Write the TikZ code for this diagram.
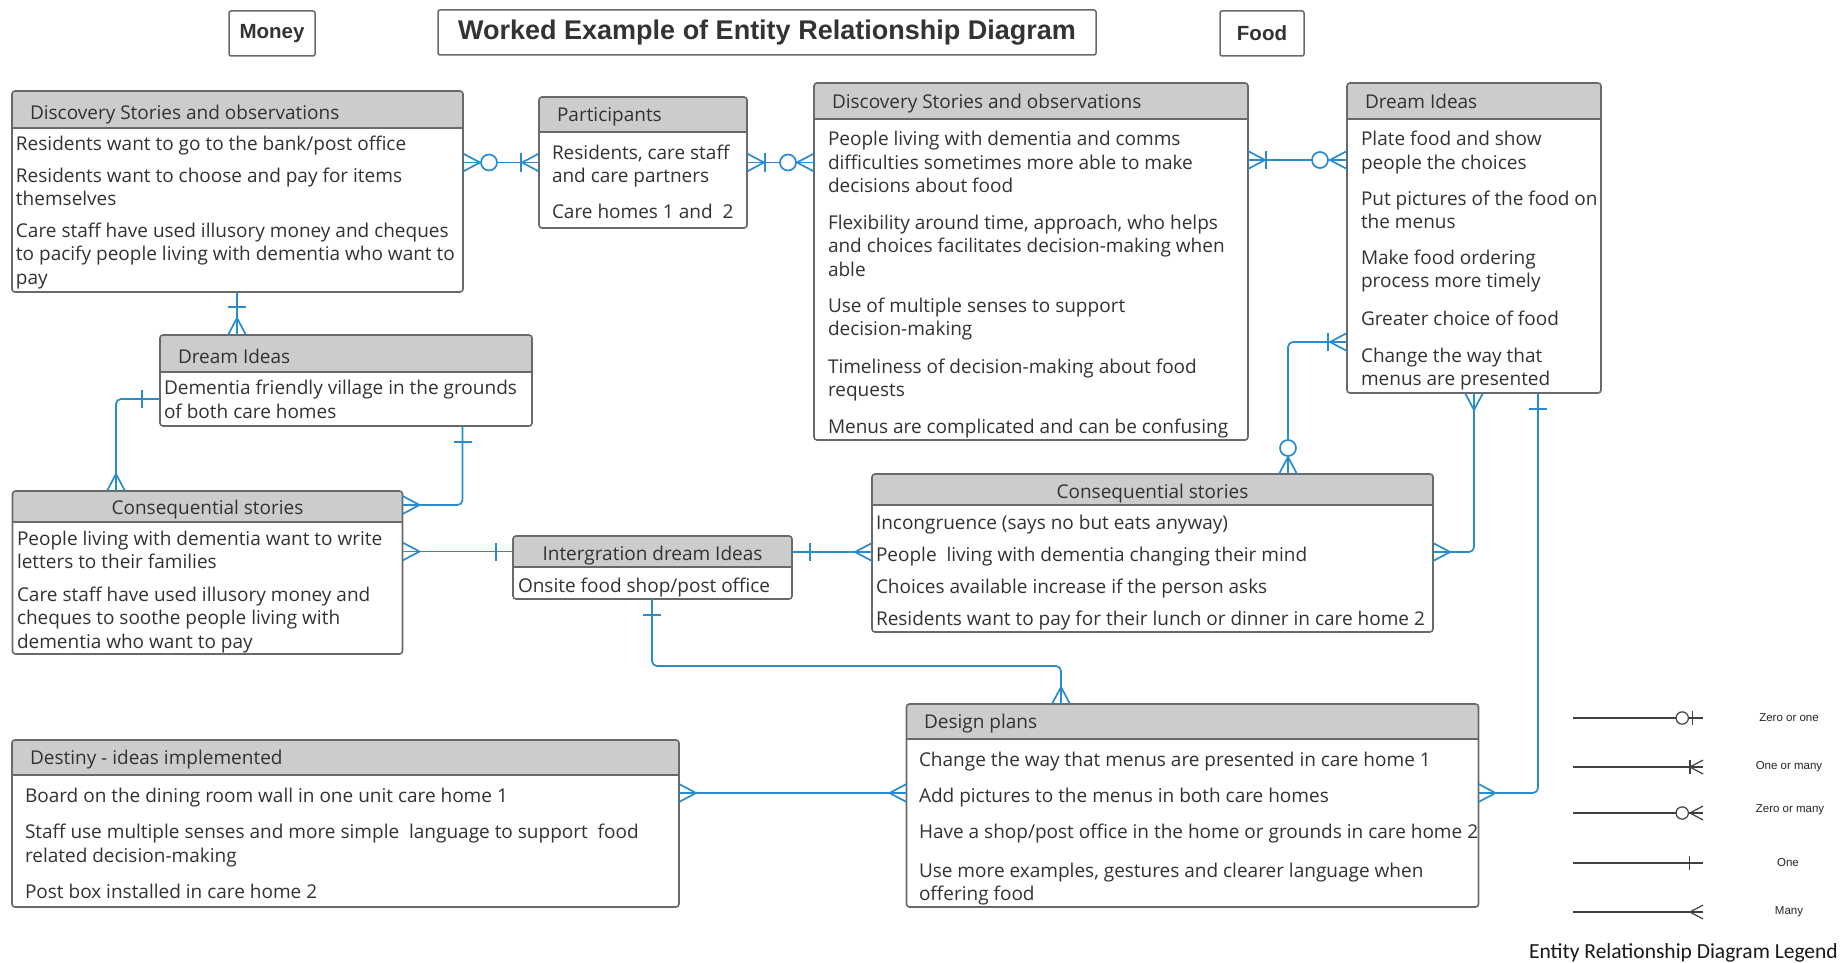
\documentclass[tikz,border=0pt]{standalone}
\usepackage{fontspec}
\setmainfont{Open Sans}
\newfontfamily\headfont{Liberation Sans}
\newfontfamily\legfont{Carlito}
\usetikzlibrary{calc}

\definecolor{erblue}{RGB}{40,140,205}
\definecolor{erframe}{RGB}{105,105,105}
\definecolor{erhead}{RGB}{204,204,204}
\definecolor{ertext}{RGB}{50,50,50}

\newcommand\erbody{\fontsize{19}{23.5}\selectfont}

\tikzset{
  entity/.style={draw=erframe, line width=1.6pt, rounded corners=3pt, inner sep=0pt, outer sep=0pt, anchor=north west},
  frame/.style={draw=erframe, line width=1.6pt},
  item/.style={anchor=north west, inner sep=0pt, outer sep=0pt, align=left, font=\erbody, text=ertext},
  conn/.style={draw=erblue, line width=1.7pt},
  wire/.style={conn, rounded corners=5pt},
  legline/.style={draw=black!75, line width=1.2pt},
  legmark/.style={legline, scale=0.77},
  topbox/.style={draw=erframe, line width=1.5pt, rounded corners=2pt, inner sep=0pt, text=black!80, font=\headfont\bfseries\fontsize{20.5}{24}\selectfont},
  leglabel/.style={font=\headfont\fontsize{11.5}{13}\selectfont, text=black!85, inner sep=0pt}
}

% entity box: name, x1, y1, x2, y2, bottom of the title band
\newcommand\erentity[6]{%
  \begin{scope}
    \clip[rounded corners=3pt] (#2,#3) rectangle (#4,#5);
    \fill[white] (#2,#3) rectangle (#4,#5);
    \fill[erhead] (#2,#3) rectangle (#4,#6);
  \end{scope}
  \draw[frame] (#2,#6) -- (#4,#6);
  \node[entity, minimum width={#4pt-#2pt}, minimum height={#5pt-#3pt}] (#1) at (#2,#3) {};
}
% text line(s): name, left x, centre of first line, text
\newcommand\erline[4]{\node[item] (#1) at (#2,{#3-8}) {\strut #4};}

% crow's foot notation, drawn outward from a box edge point
\newcommand\ermany[3]{\draw[shift={(#1)}, rotate=#2, #3] (0,9) -- (17,0) -- (0,-9);}
\newcommand\erbar[4]{\draw[shift={(#1)}, rotate=#2, #3] (#4,-9) -- (#4,9);}
\newcommand\ercirc[4]{\draw[shift={(#1)}, rotate=#2, #3, fill=white] (#4,0) circle[radius=8];}

\begin{document}
\begin{tikzpicture}[x=1pt,y=-1pt]
\useasboundingbox (0,0) rectangle (1842,963);
\fill[white] (0,0) rectangle (1842,963);

% heading boxes
\node[topbox, minimum width=86pt, minimum height=45pt] (money) at (272,33.5) {Money};
\node[topbox, minimum width=658pt, minimum height=45pt, font=\headfont\bfseries\fontsize{27}{30}\selectfont] (title) at (767,32.5) {Worked Example of Entity Relationship Diagram};
\node[topbox, minimum width=84pt, minimum height=45pt] (food) at (1262,33.5) {Food};

% entities
\erentity{A}{12}{91}{463}{292}{128}
\erentity{B}{539}{97}{747}{228}{132}
\erentity{C}{814}{83}{1248}{440}{119}
\erentity{D}{1347}{83}{1601}{393}{119}
\erentity{E}{160}{335}{532}{426}{372}
\erentity{F}{12.5}{491}{402.5}{654}{522}
\erentity{G}{513}{536}{792}{599}{567}
\erentity{H}{872}{474}{1433}{632}{505}
\erentity{I}{12}{740}{679}{907}{775}
\erentity{J}{906.5}{704}{1478.5}{907}{739}

% Money: discovery stories
\erline{Ah}{30}{111}{Discovery Stories and observations}
\erline{A1}{16}{142}{Residents want to go to the bank/post office}
\erline{A2}{16}{174}{Residents want to choose and pay for items\\themselves}
\erline{A3}{16}{229}{Care staff have used illusory money and cheques\\to pacify people living with dementia who want to\\pay}

% participants
\erline{Bh}{557}{113}{Participants}
\erline{B1}{552}{151}{Residents, care staff\\and care partners}
\erline{B2}{552}{210}{Care homes 1 and\ \ 2}

% Food: discovery stories
\erline{Ch}{832}{100}{Discovery Stories and observations}
\erline{C1}{828}{137.5}{People living with dementia and comms\\difficulties sometimes more able to make\\decisions about food}
\erline{C2}{828}{221}{Flexibility around time, approach, who helps\\and choices facilitates decision-making when\\able}
\erline{C3}{828}{304}{Use of multiple senses to support\\decision-making}
\erline{C4}{828}{365}{Timeliness of decision-making about food\\requests}
\erline{C5}{828}{425}{Menus are complicated and can be confusing}

% Food: dream ideas
\erline{Dh}{1365}{100}{Dream Ideas}
\erline{D1}{1361}{137.5}{Plate food and show\\people the choices}
\erline{D2}{1361}{197}{Put pictures of the food on\\the menus}
\erline{D3}{1361}{256}{Make food ordering\\process more timely}
\erline{D4}{1361}{317}{Greater choice of food}
\erline{D5}{1361}{354}{Change the way that\\menus are presented}

% Money: dream ideas
\erline{Eh}{178}{355}{Dream Ideas}
\erline{E1}{164}{386.5}{Dementia friendly village in the grounds\\of both care homes}

% Money: consequential stories
\node[item, anchor=north, align=center] (Fh) at (207.5,{506-8}) {\strut Consequential stories};
\erline{F1}{17}{537}{People living with dementia want to write\\letters to their families}
\erline{F2}{17}{593}{Care staff have used illusory money and\\cheques to soothe people living with\\dementia who want to pay}

% integration
\node[item, anchor=north, align=center] (Gh) at (652.5,{552-8}) {\strut Intergration dream Ideas};
\erline{G1}{518}{584}{Onsite food shop/post office}

% Food: consequential stories
\node[item, anchor=north, align=center] (Hh) at (1152.5,{490-8}) {\strut Consequential stories};
\erline{H1}{876}{521.5}{Incongruence (says no but eats anyway)}
\erline{H2}{876}{553}{People\ \ living with dementia changing their mind}
\erline{H3}{876}{585}{Choices available increase if the person asks}
\erline{H4}{876}{617}{Residents want to pay for their lunch or dinner in care home 2}

% destiny
\erline{Ih}{30}{756.5}{Destiny - ideas implemented}
\erline{I1}{25}{794}{Board on the dining room wall in one unit care home 1}
\erline{I2}{25}{830.5}{Staff use multiple senses and more simple\ \ language to support\ \ food\\related decision-making}
\erline{I3}{25}{890}{Post box installed in care home 2}

% design plans
\erline{Jh}{924}{720}{Design plans}
\erline{J1}{919}{757.7}{Change the way that menus are presented in care home 1}
\erline{J2}{919}{794}{Add pictures to the menus in both care homes}
\erline{J3}{919}{830.5}{Have a shop/post office in the home or grounds in care home 2}
\erline{J4}{919}{869}{Use more examples, gestures and clearer language when\\offering food}

% connector end points
\coordinate (c1a) at (A.east |- B.west);
\coordinate (c1b) at (B.west);
\coordinate (c2a) at (B.east);
\coordinate (c2b) at (B.east -| C.west);
\coordinate (c3a) at ($(C.north east)+(0,77)$);
\coordinate (c3b) at (c3a -| D.west);
\coordinate (c4a) at ($(A.south west)+(225,0)$);
\coordinate (c4b) at (c4a |- E.north);
\coordinate (c5a) at ($(E.north west)+(0,64)$);
\coordinate (c5b) at ($(F.north west)+(103.5,0)$);
\coordinate (c6a) at ($(E.south east)+(-69.5,0)$);
\coordinate (c6b) at ($(F.north east)+(0,14)$);
\coordinate (c7b) at ($(G.north west)+(0,15.5)$);
\coordinate (c7a) at (F.east |- c7b);
\coordinate (c8a) at ($(G.north east)+(0,16)$);
\coordinate (c8b) at (c8a -| H.west);
\coordinate (c9a) at ($(G.south west)+(139,0)$);
\coordinate (c9m) at ($(c9a)+(0,67)$);
\coordinate (c9b) at ($(J.north west)+(154.5,0)$);
\coordinate (c10a) at ($(H.north west)+(416,0)$);
\coordinate (c10b) at ($(D.north west)+(0,259)$);
\coordinate (c11a) at ($(D.south west)+(127,0)$);
\coordinate (c11b) at ($(H.north east)+(0,78)$);
\coordinate (c12a) at ($(D.south west)+(191,0)$);
\coordinate (c12b) at ($(J.north east)+(0,89)$);
\coordinate (c13a) at ($(I.north east)+(0,53)$);
\coordinate (c13b) at (c13a -| J.west);

% relationship lines
\draw[conn] (c1a) -- (c1b);
\draw[conn] (c2a) -- (c2b);
\draw[conn] (c3a) -- (c3b);
\draw[conn] (c4a) -- (c4b);
\draw[wire] (c5a) -| (c5b);
\draw[wire] (c6a) |- (c6b);
\draw[conn] (c7a) -- (c7b);
\draw[conn] (c8a) -- (c8b);
\draw[wire] (c9a) -- (c9m) -| (c9b);
\draw[wire] (c10a) |- (c10b);
\draw[wire] (c11a) |- (c11b);
\draw[wire] (c12a) |- (c12b);
\draw[conn] (c13a) -- (c13b);

% cardinality marks
\ermany{c1a}{0}{conn}\ercirc{c1a}{0}{conn}{26}
\ermany{c1b}{180}{conn}\erbar{c1b}{180}{conn}{18}
\ermany{c2a}{0}{conn}\erbar{c2a}{0}{conn}{18}
\ermany{c2b}{180}{conn}\ercirc{c2b}{180}{conn}{26}
\ermany{c3a}{0}{conn}\erbar{c3a}{0}{conn}{18}
\ermany{c3b}{180}{conn}\ercirc{c3b}{180}{conn}{27}
\erbar{c4a}{-90}{conn}{15}
\ermany{c4b}{90}{conn}
\erbar{c5a}{180}{conn}{18}
\ermany{c5b}{90}{conn}
\erbar{c6a}{-90}{conn}{16}
\ermany{c6b}{0}{conn}
\ermany{c7a}{0}{conn}
\erbar{c7b}{180}{conn}{17}
\erbar{c8a}{0}{conn}{18}
\ermany{c8b}{180}{conn}
\erbar{c9a}{-90}{conn}{16}
\ermany{c9b}{90}{conn}
\ermany{c10a}{90}{conn}\ercirc{c10a}{90}{conn}{26}
\ermany{c10b}{180}{conn}\erbar{c10b}{180}{conn}{19}
\ermany{c11a}{-90}{conn}
\ermany{c11b}{0}{conn}
\erbar{c12a}{-90}{conn}{16}
\ermany{c12b}{0}{conn}
\ermany{c13a}{0}{conn}
\ermany{c13b}{180}{conn}

% legend
\coordinate (l1a) at (1573,718); \coordinate (l1b) at (1703,718);
\coordinate (l2a) at (1573,767); \coordinate (l2b) at (1703,767);
\coordinate (l3a) at (1573,813); \coordinate (l3b) at (1703,813);
\coordinate (l4a) at (1573,863); \coordinate (l4b) at (1703,863);
\coordinate (l5a) at (1573,912); \coordinate (l5b) at (1703,912);
\draw[legline] (l1a) -- (l1b);
\draw[legline] (l2a) -- (l2b);
\draw[legline] (l3a) -- (l3b);
\draw[legline] (l4a) -- (l4b);
\draw[legline] (l5a) -- (l5b);
\ercirc{l1b}{180}{legmark}{27}\erbar{l1b}{180}{legmark}{14}
\ermany{l2b}{180}{legmark}\erbar{l2b}{180}{legmark}{17}
\ermany{l3b}{180}{legmark}\ercirc{l3b}{180}{legmark}{27}
\erbar{l4b}{180}{legmark}{18}
\ermany{l5b}{180}{legmark}
\node[leglabel] (k1) at (1789,718) {Zero or one};
\node[leglabel] (k2) at (1789,767) {One or many};
\node[leglabel] (k3) at (1790,810) {Zero or many};
\node[leglabel] (k4) at (1788,863) {One};
\node[leglabel] (k5) at (1789,912) {Many};
\node[anchor=base east, inner sep=0pt, font=\legfont\fontsize{21.5}{24}\selectfont, text=black!90] (legtitle) at (1838,958) {Entity Relationship Diagram Legend};
\end{tikzpicture}
\end{document}
